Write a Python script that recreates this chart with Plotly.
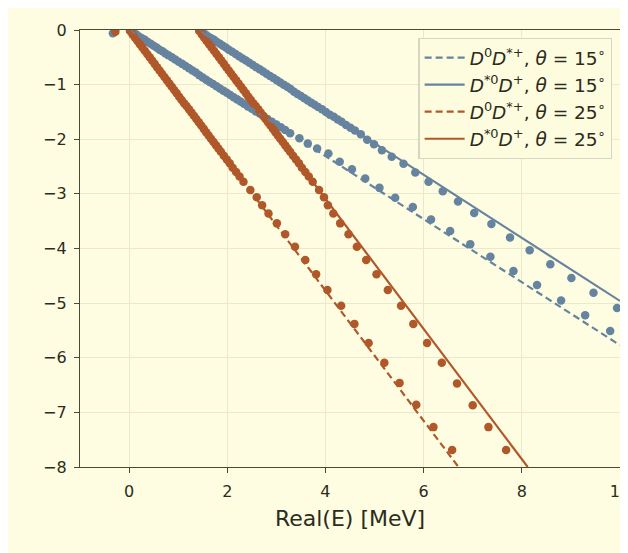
import plotly.graph_objects as go

# ---- line endpoints ----
l15a_x = [0.0, 10.0];  l15a_y = [0.0, -5.77]
l15b_x = [1.41, 10.0]; l15b_y = [0.0, -4.96]
l25a_x = [0.0, 6.71];  l25a_y = [0.0, -8.0]
l25b_x = [1.41, 8.12]; l25b_y = [0.0, -8.0]

# ---- dots, blue branch starting at 0 ----
b1_x = [-0.33, 0.02, 0.08, 0.14, 0.20, 0.26, 0.32, 0.38, 0.44, 0.50, 0.56, 0.62, 0.68, 0.74, 0.80,
        0.87, 0.94, 1.01, 1.08, 1.15, 1.22, 1.29, 1.36, 1.43, 1.50, 1.57, 1.64, 1.71, 1.78,
        1.85, 1.92, 1.99, 2.06, 2.13, 2.20, 2.27, 2.34, 2.42, 2.50, 2.58, 2.66, 2.74, 2.82,
        2.91, 3.00, 3.09, 3.18,
        3.28, 3.47, 3.64, 3.83, 4.06, 4.29, 4.54, 4.81, 5.10, 5.42, 5.78, 6.15, 6.54, 6.95,
        7.36, 7.83, 8.31, 8.80, 9.29, 9.80]
b1_y = [-0.06, -0.01, -0.05, -0.08, -0.12, -0.15, -0.18, -0.22, -0.25, -0.29, -0.32, -0.36, -0.39, -0.43, -0.46,
        -0.50, -0.54, -0.58, -0.62, -0.66, -0.70, -0.74, -0.78, -0.83, -0.87, -0.91, -0.95, -0.99, -1.03,
        -1.07, -1.11, -1.15, -1.19, -1.23, -1.27, -1.31, -1.35, -1.40, -1.44, -1.49, -1.53, -1.58, -1.63,
        -1.68, -1.73, -1.78, -1.83,
        -1.89, -1.98, -2.08, -2.17, -2.26, -2.41, -2.55, -2.72, -2.89, -3.07, -3.24, -3.47, -3.68, -3.92,
        -4.15, -4.41, -4.67, -4.95, -5.22, -5.51]

# ---- dots, blue branch starting at 1.41 ----
b2_x = [1.43, 1.49, 1.55, 1.61, 1.67, 1.73, 1.79, 1.85, 1.91, 1.97, 2.03, 2.10, 2.17, 2.24, 2.31,
        2.38, 2.45, 2.52, 2.59, 2.66, 2.73, 2.80, 2.87, 2.94, 3.01, 3.08, 3.15, 3.22, 3.29, 3.36,
        3.43, 3.50, 3.57, 3.64, 3.71, 3.78, 3.85, 3.93, 4.01, 4.09, 4.17, 4.25, 4.33, 4.42, 4.51,
        4.60, 4.72,
        4.85, 4.99, 5.15, 5.35, 5.59, 5.83, 6.10, 6.39, 6.70, 7.03, 7.38, 7.76, 8.16, 8.58,
        9.01, 9.46, 9.94]
b2_y = [-0.01, -0.05, -0.08, -0.12, -0.15, -0.18, -0.22, -0.25, -0.29, -0.32, -0.36, -0.40, -0.44, -0.48, -0.52,
        -0.56, -0.60, -0.64, -0.68, -0.72, -0.76, -0.80, -0.84, -0.88, -0.92, -0.96, -1.00, -1.04, -1.08, -1.13,
        -1.17, -1.21, -1.25, -1.29, -1.33, -1.37, -1.41, -1.45, -1.50, -1.55, -1.59, -1.64, -1.68, -1.74, -1.79,
        -1.84, -1.91,
        -2.01, -2.09, -2.20, -2.32, -2.45, -2.61, -2.78, -2.95, -3.14, -3.35, -3.55, -3.80, -4.03, -4.29,
        -4.54, -4.81, -5.09]

# ---- dots, orange branch starting at 0 ----
o1_x = [-0.28, 0.02, 0.07, 0.12, 0.17, 0.22, 0.27, 0.32, 0.37, 0.42, 0.47, 0.52, 0.57, 0.62, 0.67,
        0.72, 0.77, 0.82, 0.87, 0.92, 0.97, 1.02, 1.07, 1.12, 1.17, 1.22, 1.27, 1.32, 1.37,
        1.42, 1.47, 1.52, 1.57, 1.62, 1.67, 1.72, 1.77, 1.82, 1.87, 1.93, 1.99, 2.05, 2.11,
        2.18, 2.25, 2.33,
        2.47, 2.60, 2.71, 2.84, 3.01, 3.18, 3.38, 3.59, 3.81, 4.04, 4.32, 4.59, 4.88, 5.20,
        5.51, 5.85, 6.20, 6.58]
o1_y = [-0.03, -0.02, -0.08, -0.14, -0.20, -0.26, -0.32, -0.38, -0.44, -0.50, -0.56, -0.62, -0.68, -0.74, -0.80,
        -0.86, -0.92, -0.98, -1.04, -1.10, -1.16, -1.22, -1.28, -1.34, -1.39, -1.45, -1.51, -1.57, -1.63,
        -1.69, -1.75, -1.81, -1.87, -1.93, -1.99, -2.05, -2.11, -2.17, -2.23, -2.30, -2.37, -2.44, -2.52,
        -2.60, -2.68, -2.78,
        -2.93, -3.06, -3.21, -3.36, -3.54, -3.74, -3.97, -4.21, -4.47, -4.76, -5.05, -5.38, -5.73, -6.09,
        -6.46, -6.86, -7.27, -7.69]

# ---- dots, orange branch starting at 1.41 ----
o2_x = [1.43, 1.48, 1.53, 1.58, 1.63, 1.68, 1.73, 1.78, 1.83, 1.88, 1.93, 1.98, 2.03, 2.08,
        2.13, 2.18, 2.23, 2.28, 2.33, 2.38, 2.43, 2.48, 2.53, 2.58, 2.63, 2.68, 2.73, 2.78,
        2.83, 2.88, 2.93, 2.98, 3.03, 3.08, 3.13, 3.18, 3.23, 3.28, 3.34, 3.40, 3.46, 3.52,
        3.59, 3.66, 3.74,
        3.87, 3.97, 4.05, 4.16, 4.30, 4.47, 4.64, 4.83, 5.04, 5.27, 5.54, 5.79, 6.07, 6.37,
        6.68, 7.00, 7.32, 7.68]
o2_y = [-0.02, -0.08, -0.14, -0.20, -0.26, -0.32, -0.38, -0.44, -0.50, -0.56, -0.62, -0.68, -0.74, -0.80,
        -0.86, -0.92, -0.98, -1.04, -1.10, -1.16, -1.22, -1.28, -1.34, -1.39, -1.45, -1.51, -1.57, -1.63,
        -1.69, -1.75, -1.81, -1.87, -1.93, -1.99, -2.05, -2.11, -2.17, -2.23, -2.30, -2.37, -2.44, -2.52,
        -2.60, -2.68, -2.78,
        -2.93, -3.06, -3.21, -3.36, -3.54, -3.74, -3.97, -4.21, -4.47, -4.76, -5.05, -5.38, -5.73, -6.09,
        -6.47, -6.87, -7.27, -7.69]

legend_names = [
    "<i>D</i><sup>0</sup><i>D</i><sup>*+</sup>, <i>θ</i> = 15<sup>∘</sup>",
    "<i>D</i><sup>*0</sup><i>D</i><sup>+</sup>, <i>θ</i> = 15<sup>∘</sup>",
    "<i>D</i><sup>0</sup><i>D</i><sup>*+</sup>, <i>θ</i> = 25<sup>∘</sup>",
    "<i>D</i><sup>*0</sup><i>D</i><sup>+</sup>, <i>θ</i> = 25<sup>∘</sup>",
]

BLUE = "#6683a0"
ORANGE = "#b0582a"
BG = "#fefde2"

fig = go.Figure()
for xs, ys, c in [(b1_x, b1_y, BLUE), (b2_x, b2_y, BLUE), (o1_x, o1_y, ORANGE), (o2_x, o2_y, ORANGE)]:
    fig.add_trace(go.Scatter(x=xs, y=ys, mode="markers", showlegend=False,
                             marker=dict(color=c, size=8.5, line=dict(width=0)), cliponaxis=True))

for xs, ys, c, d, nm in [(l15a_x, l15a_y, BLUE, "7px,4px", legend_names[0]),
                         (l15b_x, l15b_y, BLUE, "solid", legend_names[1]),
                         (l25a_x, l25a_y, ORANGE, "7px,4px", legend_names[2]),
                         (l25b_x, l25b_y, ORANGE, "solid", legend_names[3])]:
    fig.add_trace(go.Scatter(x=xs, y=ys, mode="lines", name=nm,
                             line=dict(color=c, width=2.2, dash=d)))

axis_common = dict(showline=True, linecolor="#4a4a30", linewidth=1.3, mirror=True,
                   ticks="outside", ticklen=5, tickwidth=1.2, tickcolor="#4a4a30",
                   showgrid=True, gridcolor="#ebe8cc", gridwidth=1, zeroline=False,
                   automargin=False, ticklabeloverflow="allow",
                   tickfont=dict(size=16, color="#2b2b20"))

fig.update_layout(
    width=620, height=545,
    paper_bgcolor=BG, plot_bgcolor=BG,
    margin=dict(l=72, r=8, t=22, b=86),
    font=dict(family="DejaVu Sans", color="#2b2b20"),
    xaxis=dict(range=[-1, 10], tickvals=[0, 2, 4, 6, 8, 10], ticklabelstandoff=5,
               title=dict(text="Real(E) [MeV]", font=dict(size=22, color="#2b2b20"), standoff=10),
               **axis_common),
    yaxis=dict(range=[-8, 0], tickvals=[0, -1, -2, -3, -4, -5, -6, -7, -8], ticklabelstandoff=4,
               **axis_common),
    legend=dict(x=0.986, y=0.982, xanchor="right", yanchor="top",
                bgcolor="#fdfcdf", bordercolor="#d8d6c0", borderwidth=1.2,
                font=dict(size=18.5, color="#2b2b20"), tracegroupgap=0, itemwidth=40),
    showlegend=True,
)

fig.write_html("out.html")
